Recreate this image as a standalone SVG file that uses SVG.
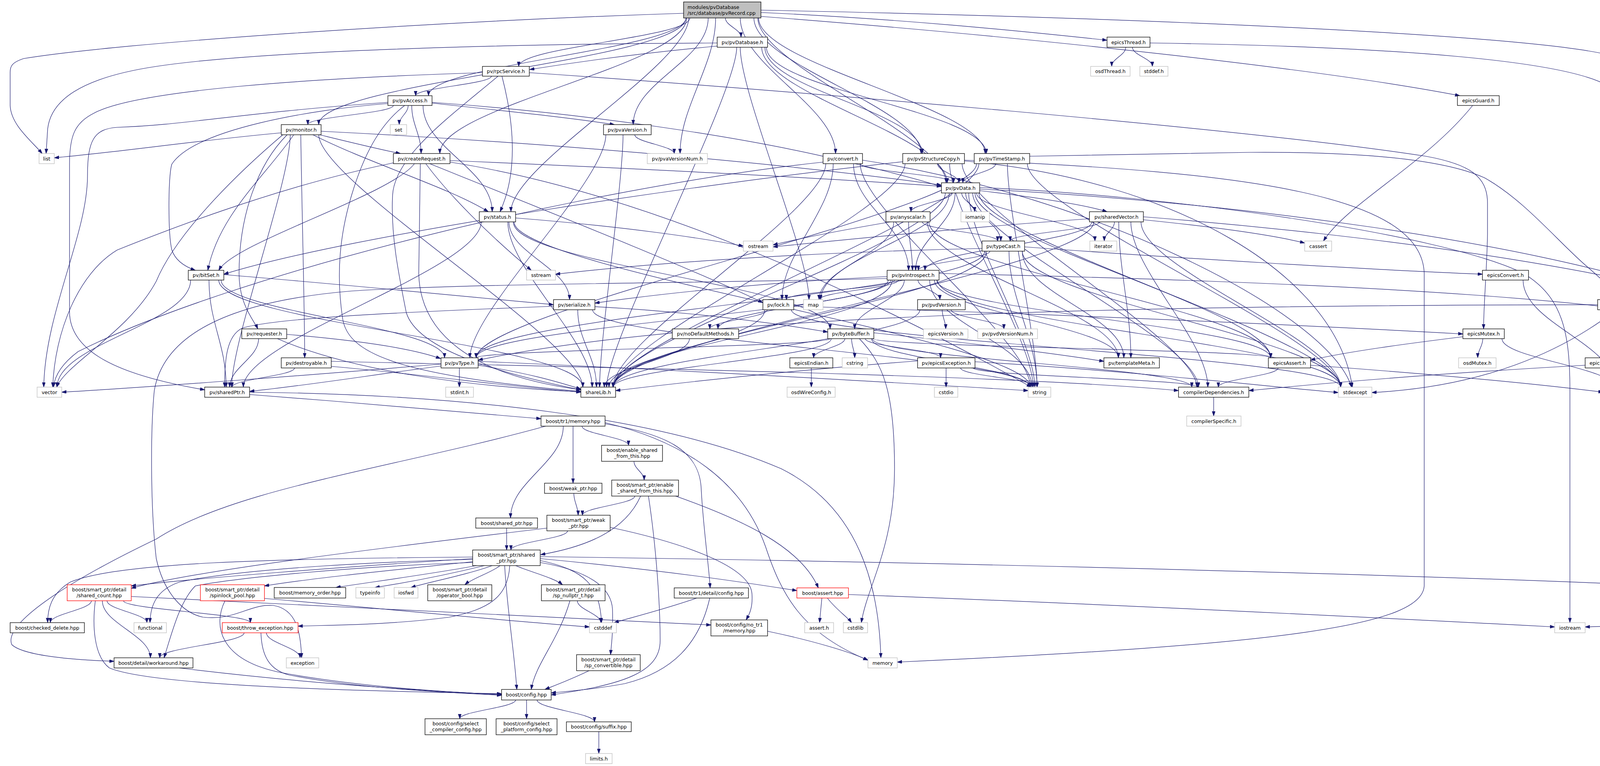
<svg xmlns="http://www.w3.org/2000/svg" width="4764" height="1961" viewBox="0 0 4764 1961">
<defs>
<marker id="arr" markerWidth="13" markerHeight="9" refX="12" refY="4" orient="auto" markerUnits="userSpaceOnUse"><path d="M0,0 L12,4 L0,8 z" fill="#191970" stroke="#191970" stroke-width="1"/></marker>
</defs>
<style>
.n rect{fill:#ffffff;stroke:#000000;stroke-width:1.3}
.g rect{stroke:#bfbfbf}
.r rect{stroke:#ff0000}
.root rect{fill:#bfbfbf}
text{font-family:"DejaVu Sans","Liberation Sans",Arial,sans-serif;font-size:12.5px;text-anchor:middle;fill:#000000}
.root text{text-anchor:start}
#edges path{fill:none;stroke:#191970;stroke-width:1.2;marker-end:url(#arr)}
</style>
<rect x="0" y="0" width="4764" height="1961" fill="#ffffff"/>
<g id="edges">
<path d="M1857,46 C1857,66 1897,75 1897,95"/>
<path d="M1948,32 C2300,48 2600,78 2834,103"/>
<path d="M1948,42 C2700,100 3400,180 3737,245"/>
<path d="M1766,46 C1766,96 1328,120 1328,170"/>
<path d="M1756,46 C1756,126 1097,165 1097,245"/>
<path d="M1756,46 C1756,155 816,210 816,319"/>
<path d="M1750,34 C1100,55 300,110 60,150 C30,160 26,170 26,185 L26,270 C28,320 80,360 108,393"/>
<path d="M1758,46 C1758,166 1126,273 1126,393"/>
<path d="M1763,46 C1763,166 1308,422 1308,542"/>
<path d="M1813,46 C1813,155 1621,210 1621,319"/>
<path d="M1832,46 C1832,166 1741,273 1741,393"/>
<path d="M1895,46 C1895,166 2139,273 2139,393"/>
<path d="M1930,46 C1930,166 2358,273 2358,393"/>
<path d="M1942,46 C1942,166 2522,273 2522,393"/>
<path d="M1940,46 C1940,166 2422,348 2422,468"/>
<path d="M1948,26 C2900,45 4000,90 4150,150 C4195,170 4202,185 4202,210 L4202,690 C4200,730 4168,745 4164,767"/>
<path d="M1836,110 C1400,112 700,125 400,170 C200,200 130,260 122,330 L118,393"/>
<path d="M1836,118 C1650,135 1500,155 1356,178"/>
<path d="M1950,121 C1950,241 2425,348 2425,468"/>
<path d="M1958,121 C1958,230 2361,284 2361,393"/>
<path d="M1962,121 C1962,230 2525,284 2525,393"/>
<path d="M1895,121 C1895,241 2071,647 2071,767"/>
<path d="M1886,121 C1886,241 1553,871 1553,991"/>
<path d="M2882,121 C2882,141 2846,150 2846,170"/>
<path d="M2899,121 C2899,141 2950,150 2950,170"/>
<path d="M2944,110 C3500,118 4080,150 4140,240 C4155,270 4152,320 4152,400 L4152,480 C4158,560 4252,620 4252,720 L4252,800 C4250,880 4190,950 4176,991"/>
<path d="M3770,270 C3650,420 3450,520 3388,617"/>
<path d="M1258,195 C1258,215 1064,225 1064,245"/>
<path d="M1285,195 C1320,330 1322,450 1280,542"/>
<path d="M1235,186 C800,200 350,230 240,290 C190,315 178,350 178,420 L178,800 C180,900 300,960 524,998"/>
<path d="M1275,195 C1150,300 1010,400 1005,500 C1000,600 1020,700 1040,800 C1070,900 1300,960 1487,998"/>
<path d="M1355,186 C2000,230 3200,330 3650,400 C3760,420 3808,450 3808,520 L3808,600 C3806,700 3798,780 3798,842"/>
<path d="M1007,270 C1007,290 788,299 788,319"/>
<path d="M1045,270 C1045,290 1022,299 1022,319"/>
<path d="M1054,270 C1054,319 1078,344 1078,393"/>
<path d="M1083,270 C1083,379 1260,433 1260,542"/>
<path d="M1106,264 C1300,285 1450,300 1573,319"/>
<path d="M1106,262 C1500,290 1900,350 2150,410 C2300,445 2380,468 2410,478"/>
<path d="M993,262 C600,290 480,320 300,326 C240,330 224,360 224,450 C224,600 115,800 112,991"/>
<path d="M993,265 C800,280 500,330 440,420 C430,450 430,600 440,640 C450,670 480,685 500,692"/>
<path d="M1036,270 C970,320 930,400 900,500 C870,600 860,700 877,815 C890,900 1000,960 1487,1002"/>
<path d="M720,340 C500,360 300,390 139,404"/>
<path d="M735,345 C660,420 612,550 612,700 C612,780 650,820 660,842"/>
<path d="M770,345 C772,500 780,800 780,916"/>
<path d="M752,345 C680,450 560,550 532,692"/>
<path d="M724,345 C600,450 450,600 400,720 C330,850 170,930 145,991"/>
<path d="M743,345 C743,465 593,871 593,991"/>
<path d="M816,345 C816,465 1492,871 1492,991"/>
<path d="M806,342 C880,360 960,380 1025,393"/>
<path d="M801,345 C950,420 1150,480 1250,542"/>
<path d="M822,336 C1500,370 2100,430 2410,474"/>
<path d="M1625,345 C1625,364 1726,374 1726,393"/>
<path d="M1551,345 C1551,465 1203,796 1203,916"/>
<path d="M1595,345 C1595,465 1535,871 1535,991"/>
<path d="M1007,417 C700,480 400,600 300,640 C200,700 140,850 135,991"/>
<path d="M1061,419 C1000,500 600,620 560,692"/>
<path d="M1076,419 L1072,700 C1075,850 1200,960 1487,998"/>
<path d="M1090,419 C1150,500 1250,600 1360,692"/>
<path d="M1152,411 C1600,430 2100,455 2410,477"/>
<path d="M1100,419 C1400,540 1800,700 1953,775"/>
<path d="M1152,415 C1700,500 2300,800 2640,991"/>
<path d="M2202,419 C2202,439 2441,448 2441,468"/>
<path d="M2185,419 C2185,528 2326,583 2326,692"/>
<path d="M2107,415 C1500,480 600,700 200,900 C160,930 140,960 137,991"/>
<path d="M2208,410 C2800,500 3400,800 3460,991"/>
<path d="M2202,419 C2202,539 2638,871 2638,991"/>
<path d="M2114,419 C2114,539 1569,871 1569,991"/>
<path d="M2133,419 C2133,539 2002,647 2002,767"/>
<path d="M2400,419 C2400,439 2455,448 2455,468"/>
<path d="M2311,414 C1800,470 900,600 573,702"/>
<path d="M2469,412 C3000,460 3420,700 3462,991"/>
<path d="M2431,419 C2431,539 2645,871 2645,991"/>
<path d="M2463,419 C2463,539 3064,871 3064,991"/>
<path d="M2317,419 C2317,539 1570,871 1570,991"/>
<path d="M2469,410 C3200,440 3640,500 3646,700 L3646,1500 C3640,1600 3300,1650 2297,1695"/>
<path d="M2549,419 C2549,439 2465,448 2465,468"/>
<path d="M2636,400 C2900,395 3100,390 3200,390 C3500,388 3700,410 3800,455 C3900,510 3990,620 4060,680 C4100,715 4130,740 4140,767"/>
<path d="M2500,419 C2500,539 1219,796 1219,916"/>
<path d="M2630,419 C2630,539 3432,871 3432,991"/>
<path d="M2579,419 C2579,539 2655,871 2655,991"/>
<path d="M2506,419 C2506,539 1570,871 1570,991"/>
<path d="M2445,494 C2445,573 2344,613 2344,692"/>
<path d="M2472,494 C2472,543 2562,568 2562,617"/>
<path d="M2438,494 C2438,513 2332,523 2332,542"/>
<path d="M2508,488 C2650,505 2780,525 2834,542"/>
<path d="M2462,494 C2462,513 2495,523 2495,542"/>
<path d="M2500,494 C2500,543 2803,568 2803,617"/>
<path d="M2430,494 C2430,603 2101,658 2101,767"/>
<path d="M2480,494 C2480,614 2649,871 2649,991"/>
<path d="M2506,494 C2506,614 3432,871 3432,991"/>
<path d="M2508,484 C3200,520 3900,620 4300,750 C4550,850 4652,1000 4652,1200 L4652,1505"/>
<path d="M2508,480 C3000,500 3700,600 3900,700 C4000,760 4019,850 4019,1000 L4019,1594"/>
<path d="M2496,494 C2496,614 3253,796 3253,916"/>
<path d="M2420,494 C2420,614 1570,871 1570,991"/>
<path d="M2490,494 C2490,614 3068,871 3068,991"/>
<path d="M1320,558 C1600,580 1800,610 1903,630"/>
<path d="M1303,568 C1303,648 1458,687 1458,767"/>
<path d="M1314,568 C1314,678 2125,732 2125,842"/>
<path d="M1232,568 C1232,688 623,871 623,991"/>
<path d="M1300,568 C1300,688 1516,871 1516,991"/>
<path d="M1316,568 C1316,688 2638,871 2638,991"/>
<path d="M2280,568 C2150,590 2050,610 1979,627"/>
<path d="M2361,568 C2361,588 2554,597 2554,617"/>
<path d="M2326,568 C2326,618 2336,642 2336,692"/>
<path d="M2288,568 C2288,648 2097,687 2097,767"/>
<path d="M2374,568 C2374,688 2863,796 2863,916"/>
<path d="M2378,568 C2378,688 3253,796 3253,916"/>
<path d="M2789,560 C2500,580 2200,610 1979,632"/>
<path d="M2853,568 C2853,588 2827,597 2827,617"/>
<path d="M2815,568 C2815,588 2586,597 2586,617"/>
<path d="M2795,568 C2795,618 2368,642 2368,692"/>
<path d="M2864,568 C2864,688 2895,796 2895,916"/>
<path d="M2927,555 C3500,600 4300,700 4600,850 C4690,900 4706,1000 4706,1200 C4706,1350 4680,1450 4668,1505"/>
<path d="M2921,568 C2921,688 3432,871 3432,991"/>
<path d="M2921,562 C3100,580 3250,600 3340,622"/>
<path d="M2800,568 C2800,688 1570,871 1570,991"/>
<path d="M2895,568 C2895,688 3092,871 3092,991"/>
<path d="M2534,643 C2534,663 2351,672 2351,692"/>
<path d="M2521,643 C2521,752 1219,807 1219,916"/>
<path d="M2617,643 C2617,752 2877,807 2877,916"/>
<path d="M2514,636 C2100,645 1700,670 1422,702"/>
<path d="M2623,632 C3000,660 3500,690 3795,702"/>
<path d="M2617,643 C2617,763 3432,871 3432,991"/>
<path d="M2583,643 C2583,763 2655,871 2655,991"/>
<path d="M2526,643 C2526,763 1570,871 1570,991"/>
<path d="M2290,717 C2290,737 2013,747 2013,767"/>
<path d="M2280,717 C2280,767 1838,792 1838,842"/>
<path d="M2274,717 C2274,797 1219,836 1219,916"/>
<path d="M2315,717 C2315,767 2188,792 2188,842"/>
<path d="M2271,708 C2000,720 1700,750 1523,776"/>
<path d="M2350,717 C2350,737 2406,747 2406,767"/>
<path d="M2392,717 C2392,797 2863,836 2863,916"/>
<path d="M2300,717 C2300,737 2097,747 2097,767"/>
<path d="M2380,717 C2380,827 2642,881 2642,991"/>
<path d="M2400,717 C2400,827 3432,881 3432,991"/>
<path d="M2398,717 C2398,797 3253,836 3253,916"/>
<path d="M2284,717 C2284,827 1570,881 1570,991"/>
<path d="M2271,713 C1800,725 1200,725 900,745 C600,770 420,850 395,1000 C385,1100 385,1300 400,1430 C420,1520 470,1570 520,1580 C600,1590 640,1545 700,1550 C760,1560 770,1620 772,1684"/>
<path d="M2404,700 C3300,720 4400,760 4650,900 C4750,960 4760,1100 4760,1350 C4760,1450 4750,1520 4700,1550 C4600,1590 4300,1598 4058,1605"/>
<path d="M488,717 C488,827 146,881 146,991"/>
<path d="M566,717 C566,797 1138,836 1138,916"/>
<path d="M573,703 C900,730 1200,760 1417,780"/>
<path d="M535,717 C535,827 579,881 579,991"/>
<path d="M560,717 C560,827 1492,881 1492,991"/>
<path d="M3899,717 C3899,827 4135,881 4135,991"/>
<path d="M1417,784 C1000,800 700,815 620,840 C580,860 575,920 575,991"/>
<path d="M1479,793 C1479,872 1527,912 1527,991"/>
<path d="M1523,785 C1800,800 2000,830 2119,850"/>
<path d="M1517,793 C1517,872 2638,912 2638,991"/>
<path d="M1964,793 C1964,813 1817,822 1817,842"/>
<path d="M2032,784 C2600,800 3300,830 3745,855"/>
<path d="M2026,793 C2026,872 3432,912 3432,991"/>
<path d="M1958,793 C1958,872 1559,912 1559,991"/>
<path d="M2412,793 C2412,813 2421,822 2421,842"/>
<path d="M2435,793 C2435,813 2570,822 2570,842"/>
<path d="M2355,793 C2355,872 1570,912 1570,991"/>
<path d="M4158,793 C4158,813 4185,822 4185,842"/>
<path d="M4183,793 C4183,813 4344,822 4344,842"/>
<path d="M4138,793 C4000,900 3800,990 3512,1005"/>
<path d="M4090,780 C3000,782 1800,800 1224,922"/>
<path d="M734,856 C900,870 1050,890 1128,918"/>
<path d="M662,867 C662,917 588,941 588,991"/>
<path d="M710,867 C900,950 1200,990 1487,1003"/>
<path d="M1765,867 C1765,917 1547,941 1547,991"/>
<path d="M2163,867 C2163,887 2083,896 2083,916"/>
<path d="M2180,867 C2180,887 2188,896 2188,916"/>
<path d="M2200,867 C2260,930 2290,1000 2290,1200 C2290,1400 2220,1500 2205,1594"/>
<path d="M2215,867 C2215,887 2408,896 2408,916"/>
<path d="M2231,867 C2231,917 2637,941 2637,991"/>
<path d="M2237,852 C2500,880 2700,905 2826,925"/>
<path d="M2233,867 C2233,917 3051,941 3051,991"/>
<path d="M2125,867 C2125,887 1219,896 1219,916"/>
<path d="M2235,867 C2235,887 3253,896 3253,916"/>
<path d="M2128,867 C2128,917 1570,941 1570,991"/>
<path d="M3745,862 C3600,880 3450,900 3355,922"/>
<path d="M3796,867 C3796,887 3783,896 3783,916"/>
<path d="M3845,867 C3845,917 4132,941 4132,991"/>
<path d="M4319,867 C4319,887 4124,896 4124,916"/>
<path d="M4358,867 C4358,887 4368,896 4368,916"/>
<path d="M4373,867 C4373,887 4462,896 4462,916"/>
<path d="M4389,867 C4389,887 4564,896 4564,916"/>
<path d="M4326,867 C4326,917 4165,941 4165,991"/>
<path d="M754,942 C754,962 594,971 594,991"/>
<path d="M848,938 C1100,960 1300,990 1487,1004"/>
<path d="M848,925 C1500,940 2600,960 3017,1000"/>
<path d="M1129,932 C800,960 400,990 158,1004"/>
<path d="M1129,937 C950,960 800,985 639,1002"/>
<path d="M1176,942 L1176,991"/>
<path d="M1224,935 C1350,955 1420,975 1487,996"/>
<path d="M1224,925 C1800,950 2300,980 2632,1000"/>
<path d="M2077,942 L2077,991"/>
<path d="M2422,942 L2422,991"/>
<path d="M2459,942 C2459,962 2655,971 2655,991"/>
<path d="M2496,926 C2900,950 3200,985 3426,1005"/>
<path d="M2491,942 C2491,962 3066,971 3066,991"/>
<path d="M2349,924 C2000,950 1700,985 1576,1000"/>
<path d="M3355,935 C3700,960 3950,985 4104,1004"/>
<path d="M3272,942 C3272,962 3119,971 3119,991"/>
<path d="M4116,942 C4116,962 4150,971 4150,991"/>
<path d="M4058,935 C3700,955 3400,980 3197,1000"/>
<path d="M639,1010 C900,1030 1200,1055 1385,1072"/>
<path d="M639,1004 C1200,1010 1700,1070 2000,1200 C2200,1300 2250,1500 2255,1684"/>
<path d="M3107,1017 L3107,1065"/>
<path d="M1442,1091 C1442,1185 1307,1232 1307,1326"/>
<path d="M1467,1091 L1467,1237"/>
<path d="M1490,1091 C1490,1111 1609,1120 1609,1140"/>
<path d="M1549,1085 C1700,1110 1790,1150 1795,1250 C1800,1350 1815,1450 1818,1505"/>
<path d="M1549,1082 C1750,1130 1900,1230 1960,1400 C2000,1520 2050,1620 2222,1690"/>
<path d="M1397,1091 C1000,1200 600,1250 400,1380 C150,1500 10,1600 30,1650 C60,1680 200,1690 292,1693"/>
<path d="M1623,1181 C1623,1200 1649,1210 1649,1229"/>
<path d="M1469,1263 C1469,1285 1480,1297 1480,1319"/>
<path d="M1625,1270 C1625,1290 1491,1299 1491,1319"/>
<path d="M1640,1270 C1600,1360 1500,1400 1384,1420"/>
<path d="M1660,1270 C1680,1400 1690,1550 1690,1640 C1690,1720 1600,1752 1411,1779"/>
<path d="M1724,1268 C1900,1330 2050,1400 2095,1505"/>
<path d="M1297,1352 L1297,1408"/>
<path d="M1453,1359 C1453,1379 1308,1388 1308,1408"/>
<path d="M1400,1352 C1000,1400 500,1460 336,1506"/>
<path d="M1562,1350 C1750,1390 1920,1450 1925,1520 C1928,1560 1915,1578 1910,1587"/>
<path d="M1210,1430 C900,1450 500,1480 336,1500"/>
<path d="M1210,1438 C1000,1460 800,1480 677,1500"/>
<path d="M1220,1448 C1100,1470 950,1490 860,1504"/>
<path d="M1240,1448 C1150,1470 1050,1490 960,1504"/>
<path d="M1260,1448 C1200,1470 1100,1490 1052,1504"/>
<path d="M1280,1448 C1260,1465 1210,1480 1190,1497"/>
<path d="M1320,1448 C1360,1465 1420,1480 1440,1497"/>
<path d="M1210,1426 C700,1430 300,1440 180,1490 C130,1520 122,1560 122,1594"/>
<path d="M1210,1432 C900,1440 600,1460 460,1490 C400,1510 385,1550 384,1594"/>
<path d="M1305,1448 C1300,1530 1250,1560 1150,1580 C1000,1600 850,1600 763,1603"/>
<path d="M1210,1440 C900,1450 600,1480 500,1500 C460,1540 440,1620 420,1684"/>
<path d="M1383,1440 C1500,1460 1565,1500 1568,1560 C1570,1620 1565,1650 1563,1676"/>
<path d="M1292,1448 C1297,1550 1318,1680 1323,1765"/>
<path d="M1383,1435 C1500,1460 1535,1500 1540,1594"/>
<path d="M1383,1430 C1700,1460 1900,1490 2040,1512"/>
<path d="M1383,1425 C2500,1440 4000,1480 4616,1518"/>
<path d="M234,1538 C234,1560 129,1572 129,1594"/>
<path d="M274,1538 C274,1560 376,1572 376,1594"/>
<path d="M316,1538 C316,1560 641,1572 641,1594"/>
<path d="M262,1538 C262,1596 385,1626 385,1684"/>
<path d="M244,1538 C236,1600 240,1680 280,1710 C400,1760 1000,1770 1284,1776"/>
<path d="M336,1527 C800,1550 1400,1580 1820,1600"/>
<path d="M576,1538 C545,1600 560,1690 720,1722 C900,1755 1100,1770 1284,1778"/>
<path d="M677,1532 C1000,1560 1300,1590 1509,1605"/>
<path d="M625,1620 C625,1646 409,1658 409,1684"/>
<path d="M682,1620 C682,1646 768,1658 768,1684"/>
<path d="M668,1620 C670,1680 690,1715 740,1728 C900,1760 1100,1770 1284,1780"/>
<path d="M459,1710 C700,1740 1000,1765 1284,1778"/>
<path d="M1478,1538 C1478,1560 1538,1572 1538,1594"/>
<path d="M1459,1538 C1430,1640 1370,1700 1360,1765"/>
<path d="M1508,1717 C1460,1740 1420,1755 1395,1765"/>
<path d="M1817,1531 C1790,1650 1720,1720 1600,1750 C1520,1765 1450,1770 1411,1774"/>
<path d="M1784,1531 C1700,1560 1620,1580 1572,1594"/>
<path d="M2104,1531 L2098,1594"/>
<path d="M2118,1531 C2140,1560 2170,1580 2180,1594"/>
<path d="M2172,1522 C2800,1545 3500,1580 3980,1605"/>
<path d="M1965,1616 C2080,1640 2180,1670 2222,1690"/>
<path d="M1320,1792 C1320,1811 1177,1821 1177,1840"/>
<path d="M1348,1792 L1348,1840"/>
<path d="M1375,1792 C1375,1814 1522,1826 1522,1848"/>
<path d="M1533,1873 L1533,1929"/>
</g>
<g id="n_root" class="n root"><rect x="1750" y="5" width="198" height="41"/><text x="1760" y="23">modules/pvDatabase</text><text x="1760" y="38">/src/database/pvRecord.cpp</text></g>
<g id="n_pvDatabase" class="n"><rect x="1836" y="95" width="129" height="26"/><text x="1900.5" y="112.5">pv/pvDatabase.h</text></g>
<g id="n_epicsThread" class="n"><rect x="2834" y="95" width="110" height="26"/><text x="2889" y="112.5">epicsThread.h</text></g>
<g id="n_rpcService" class="n"><rect x="1235" y="170" width="120" height="25"/><text x="1295" y="187">pv/rpcService.h</text></g>
<g id="n_osdThread" class="n g"><rect x="2792" y="170" width="101" height="25"/><text x="2842.5" y="187">osdThread.h</text></g>
<g id="n_stddef" class="n g"><rect x="2918" y="170" width="72" height="25"/><text x="2954" y="187">stddef.h</text></g>
<g id="n_pvAccess" class="n"><rect x="993" y="245" width="113" height="25"/><text x="1049.5" y="262">pv/pvAccess.h</text></g>
<g id="n_epicsGuard" class="n"><rect x="3731" y="245" width="107" height="25"/><text x="3784.5" y="262">epicsGuard.h</text></g>
<g id="n_monitor" class="n"><rect x="720" y="319" width="102" height="26"/><text x="771" y="336.5">pv/monitor.h</text></g>
<g id="n_set" class="n g"><rect x="999" y="319" width="42" height="26"/><text x="1020" y="336.5">set</text></g>
<g id="n_pvaVersion" class="n"><rect x="1545" y="319" width="122" height="26"/><text x="1606" y="336.5">pv/pvaVersion.h</text></g>
<g id="n_list" class="n g"><rect x="100" y="393" width="39" height="26"/><text x="119.5" y="410.5">list</text></g>
<g id="n_createRequest" class="n"><rect x="1007" y="393" width="145" height="26"/><text x="1079.5" y="410.5">pv/createRequest.h</text></g>
<g id="n_pvaVersionNum" class="n g"><rect x="1657" y="393" width="154" height="26"/><text x="1734" y="410.5">pv/pvaVersionNum.h</text></g>
<g id="n_convert" class="n"><rect x="2107" y="393" width="101" height="26"/><text x="2157.5" y="410.5">pv/convert.h</text></g>
<g id="n_pvStructureCopy" class="n"><rect x="2311" y="393" width="158" height="26"/><text x="2390" y="410.5">pv/pvStructureCopy.h</text></g>
<g id="n_pvTimeStamp" class="n"><rect x="2494" y="393" width="142" height="26"/><text x="2565" y="410.5">pv/pvTimeStamp.h</text></g>
<g id="n_pvData" class="n"><rect x="2410" y="468" width="98" height="26"/><text x="2459" y="485.5">pv/pvData.h</text></g>
<g id="n_status" class="n"><rect x="1227" y="542" width="93" height="26"/><text x="1273.5" y="559.5">pv/status.h</text></g>
<g id="n_anyscalar" class="n"><rect x="2268" y="542" width="113" height="26"/><text x="2324.5" y="559.5">pv/anyscalar.h</text></g>
<g id="n_iomanip" class="n g"><rect x="2460" y="542" width="73" height="26"/><text x="2496.5" y="559.5">iomanip</text></g>
<g id="n_sharedVector" class="n"><rect x="2789" y="542" width="138" height="26"/><text x="2858" y="559.5">pv/sharedVector.h</text></g>
<g id="n_ostream" class="n g"><rect x="1903" y="617" width="76" height="26"/><text x="1941" y="634.5">ostream</text></g>
<g id="n_typeCast" class="n"><rect x="2514" y="617" width="109" height="26"/><text x="2568.5" y="634.5">pv/typeCast.h</text></g>
<g id="n_iterator" class="n g"><rect x="2790" y="617" width="69" height="26"/><text x="2824.5" y="634.5">iterator</text></g>
<g id="n_cassert" class="n g"><rect x="3340" y="617" width="69" height="26"/><text x="3374.5" y="634.5">cassert</text></g>
<g id="n_bitSet" class="n"><rect x="482" y="692" width="91" height="25"/><text x="527.5" y="709">pv/bitSet.h</text></g>
<g id="n_sstream" class="n g"><rect x="1348" y="692" width="74" height="25"/><text x="1385" y="709">sstream</text></g>
<g id="n_pvIntrospect" class="n"><rect x="2271" y="692" width="133" height="25"/><text x="2337.5" y="709">pv/pvIntrospect.h</text></g>
<g id="n_epicsConvert" class="n"><rect x="3795" y="692" width="118" height="25"/><text x="3854" y="709">epicsConvert.h</text></g>
<g id="n_serialize" class="n"><rect x="1417" y="767" width="106" height="26"/><text x="1470" y="784.5">pv/serialize.h</text></g>
<g id="n_lock" class="n"><rect x="1953" y="767" width="79" height="26"/><text x="1992.5" y="784.5">pv/lock.h</text></g>
<g id="n_map" class="n g"><rect x="2057" y="767" width="50" height="26"/><text x="2082" y="784.5">map</text></g>
<g id="n_pvdVersion" class="n"><rect x="2349" y="767" width="122" height="26"/><text x="2410" y="784.5">pv/pvdVersion.h</text></g>
<g id="n_timeStamp" class="n"><rect x="4090" y="767" width="125" height="26"/><text x="4152.5" y="784.5">pv/timeStamp.h</text></g>
<g id="n_requester" class="n"><rect x="619" y="842" width="115" height="25"/><text x="676.5" y="859">pv/requester.h</text></g>
<g id="n_noDefaultMethods" class="n"><rect x="1721" y="842" width="170" height="25"/><text x="1806" y="859">pv/noDefaultMethods.h</text></g>
<g id="n_byteBuffer" class="n"><rect x="2119" y="842" width="118" height="25"/><text x="2178" y="859">pv/byteBuffer.h</text></g>
<g id="n_epicsVersion" class="n g"><rect x="2364" y="842" width="114" height="25"/><text x="2421" y="859">epicsVersion.h</text></g>
<g id="n_pvdVersionNum" class="n g"><rect x="2503" y="842" width="153" height="25"/><text x="2579.5" y="859">pv/pvdVersionNum.h</text></g>
<g id="n_epicsMutex" class="n"><rect x="3745" y="842" width="106" height="25"/><text x="3798" y="859">epicsMutex.h</text></g>
<g id="n_ctime" class="n g"><rect x="4157" y="842" width="59" height="25"/><text x="4186.5" y="859">ctime</text></g>
<g id="n_epicsTime" class="n"><rect x="4306" y="842" width="99" height="25"/><text x="4355.5" y="859">epicsTime.h</text></g>
<g id="n_destroyable" class="n"><rect x="720" y="916" width="128" height="26"/><text x="784" y="933.5">pv/destroyable.h</text></g>
<g id="n_pvType" class="n"><rect x="1129" y="916" width="95" height="26"/><text x="1176.5" y="933.5">pv/pvType.h</text></g>
<g id="n_epicsEndian" class="n"><rect x="2022" y="916" width="110" height="26"/><text x="2077" y="933.5">epicsEndian.h</text></g>
<g id="n_cstring" class="n g"><rect x="2156" y="916" width="65" height="26"/><text x="2188.5" y="933.5">cstring</text></g>
<g id="n_epicsException" class="n"><rect x="2349" y="916" width="147" height="26"/><text x="2422.5" y="933.5">pv/epicsException.h</text></g>
<g id="n_templateMeta" class="n"><rect x="2826" y="916" width="142" height="26"/><text x="2897" y="933.5">pv/templateMeta.h</text></g>
<g id="n_epicsAssert" class="n"><rect x="3247" y="916" width="108" height="26"/><text x="3301" y="933.5">epicsAssert.h</text></g>
<g id="n_osdMutex" class="n g"><rect x="3734" y="916" width="96" height="26"/><text x="3782" y="933.5">osdMutex.h</text></g>
<g id="n_epicsTypes" class="n"><rect x="4058" y="916" width="102" height="26"/><text x="4109" y="933.5">epicsTypes.h</text></g>
<g id="n_time_h" class="n g"><rect x="4337" y="916" width="63" height="26"/><text x="4368.5" y="933.5">time.h</text></g>
<g id="n_osdTime" class="n g"><rect x="4425" y="916" width="87" height="26"/><text x="4468.5" y="933.5">osdTime.h</text></g>
<g id="n_errMdef" class="n"><rect x="4535" y="916" width="84" height="26"/><text x="4577" y="933.5">errMdef.h</text></g>
<g id="n_vector" class="n g"><rect x="95" y="991" width="63" height="26"/><text x="126.5" y="1008.5">vector</text></g>
<g id="n_sharedPtr" class="n"><rect x="524" y="991" width="115" height="26"/><text x="581.5" y="1008.5">pv/sharedPtr.h</text></g>
<g id="n_stdint" class="n g"><rect x="1141" y="991" width="71" height="26"/><text x="1176.5" y="1008.5">stdint.h</text></g>
<g id="n_shareLib" class="n"><rect x="1487" y="991" width="89" height="26"/><text x="1531.5" y="1008.5">shareLib.h</text></g>
<g id="n_osdWireConfig" class="n g"><rect x="2015" y="991" width="123" height="26"/><text x="2076.5" y="1008.5">osdWireConfig.h</text></g>
<g id="n_cstdio" class="n g"><rect x="2392" y="991" width="60" height="26"/><text x="2422" y="1008.5">cstdio</text></g>
<g id="n_string" class="n g"><rect x="2632" y="991" width="58" height="26"/><text x="2661" y="1008.5">string</text></g>
<g id="n_compilerDependencies" class="n"><rect x="3017" y="991" width="180" height="26"/><text x="3107" y="1008.5">compilerDependencies.h</text></g>
<g id="n_stdexcept" class="n g"><rect x="3426" y="991" width="86" height="26"/><text x="3469" y="1008.5">stdexcept</text></g>
<g id="n_libComAPI" class="n g"><rect x="4104" y="991" width="98" height="26"/><text x="4153" y="1008.5">libComAPI.h</text></g>
<g id="n_tr1memory" class="n"><rect x="1385" y="1065" width="164" height="26"/><text x="1467" y="1082.5">boost/tr1/memory.hpp</text></g>
<g id="n_compilerSpecific" class="n g"><rect x="3038" y="1065" width="139" height="26"/><text x="3107.5" y="1082.5">compilerSpecific.h</text></g>
<g id="n_enable_sft" class="n"><rect x="1540" y="1140" width="156" height="41"/><text x="1618" y="1157">boost/enable_shared</text><text x="1618" y="1172">_from_this.hpp</text></g>
<g id="n_weak_ptr" class="n"><rect x="1394" y="1237" width="147" height="26"/><text x="1467.5" y="1254.5">boost/weak_ptr.hpp</text></g>
<g id="n_sp_enable_sft" class="n"><rect x="1566" y="1229" width="171" height="41"/><text x="1651.5" y="1246">boost/smart_ptr/enable</text><text x="1651.5" y="1261">_shared_from_this.hpp</text></g>
<g id="n_shared_ptr" class="n"><rect x="1218" y="1326" width="158" height="26"/><text x="1297" y="1343.5">boost/shared_ptr.hpp</text></g>
<g id="n_sp_weak_ptr" class="n"><rect x="1400" y="1319" width="162" height="40"/><text x="1481" y="1336">boost/smart_ptr/weak</text><text x="1481" y="1351">_ptr.hpp</text></g>
<g id="n_sp_shared_ptr" class="n"><rect x="1210" y="1408" width="173" height="40"/><text x="1296.5" y="1425">boost/smart_ptr/shared</text><text x="1296.5" y="1440">_ptr.hpp</text></g>
<g id="n_shared_count" class="n r"><rect x="172" y="1497" width="164" height="41"/><text x="254" y="1514">boost/smart_ptr/detail</text><text x="254" y="1529">/shared_count.hpp</text></g>
<g id="n_spinlock_pool" class="n r"><rect x="513" y="1497" width="164" height="41"/><text x="595" y="1514">boost/smart_ptr/detail</text><text x="595" y="1529">/spinlock_pool.hpp</text></g>
<g id="n_memory_order" class="n"><rect x="702" y="1504" width="183" height="27"/><text x="793.5" y="1522">boost/memory_order.hpp</text></g>
<g id="n_typeinfo" class="n g"><rect x="911" y="1504" width="73" height="27"/><text x="947.5" y="1522">typeinfo</text></g>
<g id="n_iosfwd" class="n g"><rect x="1009" y="1504" width="61" height="27"/><text x="1039.5" y="1522">iosfwd</text></g>
<g id="n_operator_bool" class="n"><rect x="1095" y="1497" width="164" height="41"/><text x="1177" y="1514">boost/smart_ptr/detail</text><text x="1177" y="1529">/operator_bool.hpp</text></g>
<g id="n_sp_nullptr_t" class="n"><rect x="1386" y="1497" width="163" height="41"/><text x="1467.5" y="1514">boost/smart_ptr/detail</text><text x="1467.5" y="1529">/sp_nullptr_t.hpp</text></g>
<g id="n_tr1_config" class="n"><rect x="1726" y="1505" width="190" height="26"/><text x="1821" y="1522.5">boost/tr1/detail/config.hpp</text></g>
<g id="n_boost_assert" class="n r"><rect x="2040" y="1505" width="132" height="26"/><text x="2106" y="1522.5">boost/assert.hpp</text></g>
<g id="n_algorithm" class="n g"><rect x="4616" y="1505" width="82" height="26"/><text x="4657" y="1522.5">algorithm</text></g>
<g id="n_checked_delete" class="n"><rect x="26" y="1594" width="190" height="26"/><text x="121" y="1611.5">boost/checked_delete.hpp</text></g>
<g id="n_functional" class="n g"><rect x="343" y="1594" width="83" height="26"/><text x="384.5" y="1611.5">functional</text></g>
<g id="n_throw_exception" class="n r"><rect x="569" y="1594" width="194" height="26"/><text x="666" y="1611.5">boost/throw_exception.hpp</text></g>
<g id="n_cstddef" class="n g"><rect x="1509" y="1594" width="69" height="26"/><text x="1543.5" y="1611.5">cstddef</text></g>
<g id="n_no_tr1_memory" class="n"><rect x="1820" y="1587" width="145" height="41"/><text x="1892.5" y="1604">boost/config/no_tr1</text><text x="1892.5" y="1619">/memory.hpp</text></g>
<g id="n_assert_h" class="n g"><rect x="2060" y="1594" width="74" height="26"/><text x="2097" y="1611.5">assert.h</text></g>
<g id="n_cstdlib" class="n g"><rect x="2159" y="1594" width="62" height="26"/><text x="2190" y="1611.5">cstdlib</text></g>
<g id="n_iostream" class="n g"><rect x="3980" y="1594" width="78" height="26"/><text x="4019" y="1611.5">iostream</text></g>
<g id="n_workaround" class="n"><rect x="292" y="1684" width="202" height="26"/><text x="393" y="1701.5">boost/detail/workaround.hpp</text></g>
<g id="n_exception" class="n g"><rect x="733" y="1684" width="83" height="26"/><text x="774.5" y="1701.5">exception</text></g>
<g id="n_sp_convertible" class="n"><rect x="1476" y="1676" width="163" height="41"/><text x="1557.5" y="1693">boost/smart_ptr/detail</text><text x="1557.5" y="1708">/sp_convertible.hpp</text></g>
<g id="n_memory" class="n g"><rect x="2222" y="1684" width="75" height="26"/><text x="2259.5" y="1701.5">memory</text></g>
<g id="n_config" class="n"><rect x="1284" y="1765" width="127" height="27"/><text x="1347.5" y="1783">boost/config.hpp</text></g>
<g id="n_select_compiler" class="n"><rect x="1088" y="1840" width="157" height="41"/><text x="1166.5" y="1857">boost/config/select</text><text x="1166.5" y="1872">_compiler_config.hpp</text></g>
<g id="n_select_platform" class="n"><rect x="1270" y="1840" width="156" height="41"/><text x="1348" y="1857">boost/config/select</text><text x="1348" y="1872">_platform_config.hpp</text></g>
<g id="n_suffix" class="n"><rect x="1450" y="1848" width="166" height="25"/><text x="1533" y="1865">boost/config/suffix.hpp</text></g>
<g id="n_limits" class="n g"><rect x="1499" y="1929" width="68" height="26"/><text x="1533" y="1947">limits.h</text></g>
</svg>
